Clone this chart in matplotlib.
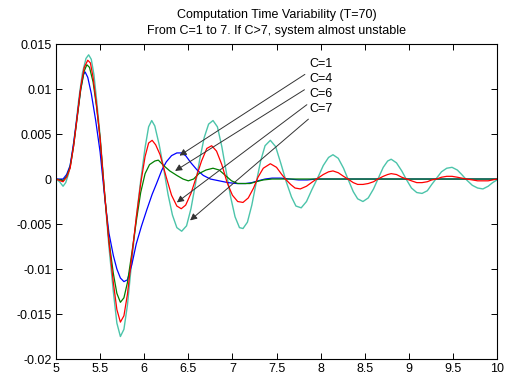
import numpy as np
import matplotlib.pyplot as plt

plt.rcParams['font.family'] = ['Liberation Sans', 'DejaVu Sans']

# curves (C = computation time)
x_c1 = [5.00, 5.05, 5.08, 5.12, 5.16, 5.20, 5.24, 5.28, 5.31, 5.33, 5.36, 5.40, 5.45, 5.50,
        5.556, 5.60, 5.65, 5.69, 5.73, 5.77, 5.81, 5.86, 5.91, 5.97, 6.03, 6.09, 6.14, 6.20,
        6.25, 6.31, 6.37, 6.42, 6.47, 6.53, 6.60, 6.67, 6.75, 6.85, 6.95, 7.05, 7.15, 7.22,
        7.29, 7.37, 7.45, 7.55, 7.65, 7.75, 7.85, 7.95, 8.10, 8.30, 10.0]
y_c1 = [0.0, 0.0, 0.0, 0.0005, 0.0015, 0.0040, 0.0070, 0.0100, 0.0116, 0.0119, 0.0113, 0.0095,
        0.0065, 0.0030, -0.0024, -0.0060, -0.0085, -0.0100, -0.0110, -0.0114, -0.0112, -0.0095,
        -0.0072, -0.0052, -0.0034, -0.0017, -0.0005, 0.0010, 0.0019, 0.0026, 0.0029, 0.0029,
        0.0026, 0.0018, 0.0010, 0.0004, 0.0, -0.0002, -0.0004, -0.0005, -0.0005, -0.0004,
        -0.0002, 0.0, 0.0001, 0.0001, 0.0, -0.0001, -0.0001, 0.0, 0.0, 0.0, 0.0]

x_c4 = [5.00, 5.05, 5.08, 5.12, 5.16, 5.20, 5.24, 5.28, 5.32, 5.35, 5.38, 5.42, 5.46, 5.50,
        5.55, 5.60, 5.65, 5.69, 5.73, 5.77, 5.81, 5.86, 5.91, 5.96, 6.01, 6.06, 6.12, 6.16,
        6.22, 6.29, 6.37, 6.44, 6.50, 6.56, 6.62, 6.70, 6.78, 6.85, 6.92, 6.99, 7.06, 7.13,
        7.20, 7.27, 7.35, 7.45, 10.0]
y_c4 = [0.0, -0.0001, -0.0002, 0.0003, 0.0013, 0.0037, 0.0068, 0.0099, 0.0120, 0.0127, 0.0124,
        0.0108, 0.0080, 0.0045, -0.0015, -0.0068, -0.0105, -0.0127, -0.0137, -0.0132, -0.0115,
        -0.0082, -0.0047, -0.0015, 0.0006, 0.0016, 0.0020, 0.0021, 0.0015, 0.0009, 0.0004,
        0.0, -0.0002, 0.0, 0.0006, 0.0010, 0.0012, 0.0010, 0.0004, -0.0002, -0.0005, -0.0005,
        -0.0005, -0.0003, -0.0001, 0.0, 0.0]

x_c6 = [5.00, 5.05, 5.08, 5.12, 5.16, 5.20, 5.24, 5.28, 5.32, 5.36, 5.39, 5.42, 5.46, 5.50,
        5.55, 5.60, 5.65, 5.69, 5.73, 5.77, 5.81, 5.86, 5.91, 5.96, 6.01, 6.05, 6.09, 6.13,
        6.18, 6.25, 6.31, 6.37, 6.42, 6.47, 6.53, 6.59, 6.65, 6.71, 6.765, 6.82, 6.88, 6.94,
        7.00, 7.06, 7.12, 7.18, 7.24, 7.29, 7.35, 7.43, 7.50, 7.56, 7.61, 7.66, 7.71, 7.77,
        7.84, 7.91, 7.97, 8.03, 8.09, 8.14, 8.20, 8.26, 8.31, 8.37, 8.42, 8.48, 8.54, 8.60,
        8.65, 8.71, 8.76, 8.80, 8.86, 8.92, 8.975, 9.03, 9.09, 9.15, 9.21, 9.26, 9.315, 9.37,
        9.43, 9.49, 9.55, 9.60, 9.655, 9.72, 9.78, 9.84, 9.90, 9.95, 10.0]
y_c6 = [0.0, -0.0002, -0.0003, 0.0002, 0.0012, 0.0037, 0.0069, 0.0102, 0.0124, 0.0132, 0.0129,
        0.0113, 0.0082, 0.0045, -0.0015, -0.0070, -0.0115, -0.0145, -0.0159, -0.0152, -0.0128,
        -0.0085, -0.0043, -0.0005, 0.0025, 0.0040, 0.0043, 0.0038, 0.0027, 0.0002, -0.0018,
        -0.0030, -0.0033, -0.0029, -0.0016, 0.0002, 0.0020, 0.0034, 0.0037, 0.0031, 0.0016,
        -0.0004, -0.0018, -0.0025, -0.0026, -0.0021, -0.0010, 0.0002, 0.0012, 0.0017, 0.0013,
        0.0005, -0.0001, -0.0006, -0.0010, -0.0011, -0.0008, -0.0003, 0.0001, 0.0005, 0.0008,
        0.0009, 0.0007, 0.0003, 0.0, -0.0004, -0.0006, -0.0006, -0.0005, -0.0003, 0.0, 0.0003,
        0.0005, 0.0006, 0.0005, 0.0002, 0.0, -0.0002, -0.0004, -0.0004, -0.0003, -0.0001, 0.0,
        0.0002, 0.0003, 0.0003, 0.0002, 0.0001, 0.0, -0.0001, -0.0002, -0.0002, -0.0002,
        -0.0001, 0.0]

x_c7 = [5.00, 5.04, 5.08, 5.11, 5.14, 5.18, 5.22, 5.26, 5.30, 5.34, 5.37, 5.40, 5.43, 5.46,
        5.50, 5.55, 5.60, 5.65, 5.69, 5.73, 5.77, 5.81, 5.86, 5.91, 5.96, 6.01, 6.05, 6.085,
        6.12, 6.17, 6.22, 6.27, 6.32, 6.37, 6.425, 6.48, 6.53, 6.58, 6.63, 6.68, 6.73, 6.78,
        6.83, 6.88, 6.93, 6.98, 7.03, 7.08, 7.12, 7.17, 7.22, 7.27, 7.32, 7.37, 7.43, 7.49,
        7.55, 7.61, 7.67, 7.72, 7.78, 7.84, 7.90, 7.97, 8.03, 8.09, 8.14, 8.20, 8.26, 8.31,
        8.37, 8.42, 8.48, 8.54, 8.60, 8.65, 8.71, 8.76, 8.80, 8.86, 8.92, 8.975, 9.03, 9.09,
        9.15, 9.21, 9.26, 9.315, 9.37, 9.43, 9.49, 9.55, 9.60, 9.655, 9.72, 9.78, 9.84, 9.90,
        9.95, 10.0]
y_c7 = [0.0, -0.0003, -0.0008, -0.0004, 0.0005, 0.0025, 0.0055, 0.0090, 0.0118, 0.0134, 0.0138,
        0.0133, 0.0116, 0.0088, 0.0048, -0.0015, -0.0075, -0.0125, -0.0160, -0.0175, -0.0167,
        -0.0140, -0.0090, -0.0043, -0.0002, 0.0035, 0.0058, 0.0065, 0.0059, 0.0038, 0.0012,
        -0.0017, -0.0040, -0.0054, -0.0058, -0.0052, -0.0033, -0.0006, 0.0022, 0.0046, 0.0061,
        0.0065, 0.0058, 0.0036, 0.0008, -0.0020, -0.0042, -0.0054, -0.0055, -0.0048, -0.0029,
        -0.0004, 0.0020, 0.0037, 0.0043, 0.0036, 0.0017, -0.0003, -0.0020, -0.0030, -0.0032,
        -0.0025, -0.0012, 0.0002, 0.0015, 0.0024, 0.0027, 0.0023, 0.0012, 0.0, -0.0014, -0.0022,
        -0.0025, -0.0021, -0.0011, 0.0, 0.0013, 0.0020, 0.0022, 0.0018, 0.0009, -0.0001,
        -0.0010, -0.0015, -0.0016, -0.0013, -0.0006, 0.0001, 0.0008, 0.0012, 0.0013, 0.0010,
        0.0005, -0.0001, -0.0007, -0.0010, -0.0011, -0.0008, -0.0004, -0.0001]

labels = ['C=1', 'C=4', 'C=6', 'C=7']
# where each arrow points (on its curve) and where its label sits
arrow_tips = [(6.40, 0.0026), (6.35, 0.0009), (6.37, -0.0026), (6.52, -0.0046)]
label_pos = [(7.87, 0.01277), (7.87, 0.01106), (7.87, 0.00942), (7.87, 0.00783)]

fig = plt.figure(figsize=(5.05, 3.77), dpi=100)
ax = fig.add_axes([0.1109, 0.0477, 0.8733, 0.8355])

ax.plot(x_c7, y_c7, color='#4cc4aa', lw=1.0)
ax.plot(x_c1, y_c1, color='#0000ff', lw=0.9)
ax.plot(x_c4, y_c4, color='#007f00', lw=0.9)
ax.plot(x_c6, y_c6, color='#ff0000', lw=0.9)

for lab, tip, pos in zip(labels, arrow_tips, label_pos):
    ax.annotate(lab, xy=tip, xytext=pos, fontsize=9, ha='left', va='center',
                arrowprops=dict(arrowstyle='-|>', color='0.2', lw=0.7,
                                mutation_scale=10, shrinkA=2, shrinkB=0))

ax.set_xlim(5, 10)
ax.set_ylim(-0.02, 0.015)
xt = np.arange(5, 10.01, 0.5)
ax.set_xticks(xt)
ax.set_xticklabels(['%g' % v for v in xt])
yt = [-0.02, -0.015, -0.01, -0.005, 0, 0.005, 0.01, 0.015]
ax.set_yticks(yt)
ax.set_yticklabels(['%g' % v for v in yt])
ax.tick_params(direction='in', length=4, width=0.7, top=True, right=True, labelsize=9, pad=3)
for s in ax.spines.values():
    s.set_linewidth(0.8)

ax.set_title('Computation Time Variability (T=70)\nFrom C=1 to 7. If C>7, system almost unstable',
             fontsize=9, pad=7, linespacing=1.45)

fig.savefig('out.png', dpi=100)
